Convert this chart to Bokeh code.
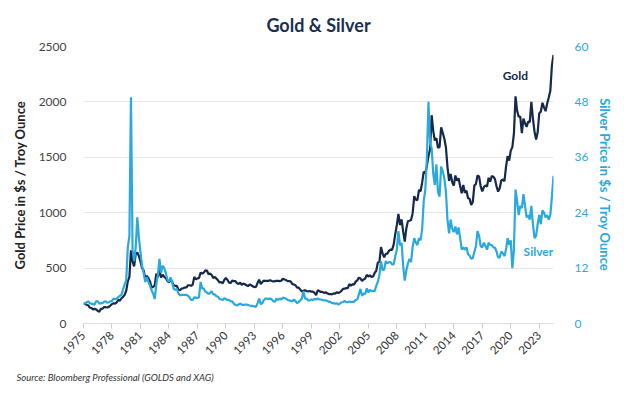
import math
import numpy as np
from bokeh.plotting import figure
from bokeh.models import Range1d, LinearAxis, FixedTicker, Title, Label
from bokeh.embed import file_html
from bokeh.resources import INLINE

# Bi-monthly readings (Jan, Mar, May, Jul, Sep, Nov) from 1975 to mid-2024
gold = [
    180, 178, 167, 165, 142, 140,        # 1975
    128, 132, 127, 114, 106, 132,        # 1976
    133, 148, 147, 144, 150, 162,        # 1977
    175, 183, 178, 190, 215, 205,        # 1978
    228, 240, 258, 296, 380, 420,        # 1979
    660, 560, 515, 630, 640, 610,        # 1980
    560, 500, 480, 410, 430, 410,        # 1981
    380, 325, 330, 345, 450, 420,        # 1982
    480, 415, 440, 420, 410, 385,        # 1983
    370, 395, 375, 345, 340, 340,        # 1984
    305, 300, 315, 318, 325, 325,        # 1985
    345, 345, 340, 350, 420, 398,        # 1986
    408, 410, 460, 450, 460, 480,        # 1987
    478, 445, 452, 438, 410, 420,        # 1988
    405, 390, 370, 375, 362, 395,        # 1989
    410, 393, 369, 365, 388, 382,        # 1990
    383, 363, 357, 368, 349, 360,        # 1991
    354, 345, 337, 353, 345, 335,        # 1992
    329, 330, 367, 395, 355, 374,        # 1993
    387, 384, 385, 385, 391, 384,        # 1994
    379, 382, 385, 386, 383, 386,        # 1995
    405, 397, 392, 383, 383, 378,        # 1996
    355, 352, 344, 324, 323, 306,        # 1997
    289, 296, 299, 293, 289, 294,        # 1998
    287, 287, 277, 256, 300, 293,        # 1999
    284, 286, 276, 282, 273, 266,        # 2000
    266, 263, 272, 268, 283, 276,        # 2001
    282, 294, 313, 314, 319, 319,        # 2002
    356, 340, 355, 351, 378, 389,        # 2003
    414, 406, 384, 398, 405, 439,        # 2004
    424, 434, 421, 424, 456, 476,        # 2005
    550, 557, 690, 633, 598, 628,        # 2006
    631, 655, 667, 665, 712, 806,        # 2007
    889, 990, 889, 939, 829, 740,        # 2008
    858, 924, 927, 934, 996, 1150,       # 2009
    1118, 1113, 1206, 1193, 1271, 1370,  # 2010
    1356, 1424, 1512, 1572, 1880, 1739,  # 2011
    1652, 1673, 1585, 1592, 1770, 1721,  # 2012
    1670, 1592, 1414, 1287, 1349, 1275,  # 2013
    1244, 1336, 1288, 1311, 1241, 1176,  # 2014
    1251, 1179, 1199, 1131, 1125, 1070,  # 2015
    1097, 1246, 1260, 1337, 1326, 1236,  # 2016
    1192, 1231, 1246, 1236, 1315, 1280,  # 2017
    1331, 1325, 1303, 1238, 1190, 1220,  # 2018
    1291, 1300, 1284, 1413, 1510, 1471,  # 2019
    1560, 1592, 1715, 2050, 1922, 1866,  # 2020
    1867, 1718, 1850, 1807, 1775, 1822,  # 2021
    1817, 2000, 1849, 1732, 1660, 1726,  # 2022
    1898, 1912, 1992, 1951, 1916, 1985,  # 2023
    2040, 2100, 2330, 2425,              # 2024
]

silver = [
    4.4, 4.3, 4.6, 4.8, 4.4, 4.3,        # 1975
    4.2, 4.1, 4.8, 4.8, 4.3, 4.4,        # 1976
    4.4, 4.7, 4.8, 4.5, 4.6, 4.8,        # 1977
    4.9, 5.4, 5.3, 5.4, 5.7, 6.0,        # 1978
    6.2, 7.4, 8.5, 9.3, 16.5, 19.0,      # 1979
    49.0, 16.0, 13.5, 16.5, 23.0, 18.5,  # 1980
    15.5, 12.5, 11.0, 9.0, 10.0, 9.0,    # 1981
    8.2, 7.2, 6.5, 5.3, 8.5, 10.5,       # 1982
    14.0, 11.0, 12.5, 12.0, 11.0, 9.5,   # 1983
    9.0, 10.0, 9.0, 7.5, 7.3, 7.5,       # 1984
    6.5, 6.1, 6.2, 6.2, 6.2, 6.2,        # 1985
    6.0, 5.7, 5.1, 5.1, 5.7, 5.6,        # 1986
    5.5, 5.7, 9.0, 7.6, 7.6, 6.9,        # 1987
    6.7, 6.4, 6.6, 7.0, 6.3, 6.3,        # 1988
    5.9, 5.8, 5.3, 5.2, 5.1, 5.5,        # 1989
    5.3, 5.1, 5.1, 4.8, 4.8, 4.3,        # 1990
    4.0, 3.9, 4.1, 4.3, 4.1, 4.0,        # 1991
    4.1, 4.1, 4.0, 3.9, 3.8, 3.8,        # 1992
    3.7, 3.6, 4.4, 5.4, 4.2, 4.4,        # 1993
    5.1, 5.4, 5.4, 5.3, 5.4, 5.2,        # 1994
    4.8, 4.7, 5.4, 5.1, 5.4, 5.2,        # 1995
    5.6, 5.5, 5.4, 5.1, 5.0, 4.9,        # 1996
    4.8, 5.2, 4.8, 4.4, 4.7, 5.0,        # 1997
    5.4, 7.0, 5.4, 5.4, 5.0, 5.0,        # 1998
    5.2, 5.1, 5.3, 5.2, 5.4, 5.2,        # 1999
    5.2, 5.1, 5.0, 5.0, 4.9, 4.7,        # 2000
    4.7, 4.4, 4.4, 4.3, 4.4, 4.1,        # 2001
    4.3, 4.6, 4.6, 4.9, 4.6, 4.6,        # 2002
    4.8, 4.6, 4.7, 4.7, 5.1, 5.2,        # 2003
    6.3, 7.5, 6.0, 6.5, 6.4, 7.6,        # 2004
    6.7, 7.3, 7.0, 7.1, 7.0, 8.2,        # 2005
    9.0, 10.5, 13.5, 11.5, 11.7, 13.5,   # 2006
    13.0, 13.3, 13.3, 12.8, 12.8, 14.5,  # 2007
    16.0, 20.0, 16.9, 17.5, 12.5, 9.3,   # 2008
    11.5, 13.0, 14.0, 13.3, 16.6, 18.5,  # 2009
    17.5, 17.0, 18.5, 18.0, 20.5, 26.5,  # 2010
    29.0, 36.0, 48.0, 39.0, 38.0, 32.5,  # 2011
    30.0, 34.5, 28.5, 27.5, 34.0, 33.0,  # 2012
    31.5, 28.7, 22.5, 19.5, 22.5, 20.5,  # 2013
    19.8, 21.0, 19.3, 20.8, 18.5, 16.0,  # 2014
    16.5, 16.0, 16.5, 15.0, 14.7, 14.0,  # 2015
    14.2, 15.5, 16.8, 20.0, 19.0, 16.7,  # 2016
    16.5, 17.5, 16.8, 16.0, 17.5, 17.0,  # 2017
    17.0, 16.5, 16.4, 15.6, 14.3, 14.3,  # 2018
    15.6, 15.2, 14.6, 16.0, 18.5, 17.0,  # 2019
    18.0, 12.0, 16.0, 29.0, 26.5, 23.5,  # 2020
    25.5, 25.0, 28.0, 25.5, 23.0, 23.5,  # 2021
    22.5, 25.5, 21.5, 18.5, 19.0, 21.5,  # 2022
    23.5, 21.5, 24.5, 24.0, 23.0, 23.5,  # 2023
    22.5, 23.5, 27.5, 32.0,              # 2024
]

year_ticks = [1975, 1978, 1981, 1984, 1987, 1990, 1993, 1996, 1999, 2002,
              2005, 2008, 2011, 2014, 2017, 2020, 2023]
gold_ticks = [0, 500, 1000, 1500, 2000, 2500]
silver_ticks = [0, 12, 24, 36, 48, 60]

years = 1975 + np.arange(len(gold)) / 6.0

NAVY = "#15294b"
BLUE = "#2aa9e0"
FONT = "Lato"

p = figure(width=616, height=391, output_backend="svg", toolbar_location=None,
           x_range=Range1d(1975, 2024.5), y_range=Range1d(0, 2500),
           min_border_left=83, min_border_right=59, min_border_top=45,
           min_border_bottom=68)
p.extra_y_ranges = {"silver": Range1d(0, 60)}
p.outline_line_color = None
p.background_fill_color = "white"
p.border_fill_color = "white"

p.title = Title(text="Gold & Silver", align="center", offset=-8,
                text_font=FONT, text_font_size="18px", text_font_style="bold",
                text_color="#1b2e50", standoff=22)

p.line(years, gold, line_color=NAVY, line_width=2.2)
p.line(years, silver, line_color=BLUE, line_width=2.2, y_range_name="silver")

xa = p.xaxis[0]
xa.ticker = FixedTicker(ticks=year_ticks)
xa.major_label_orientation = math.pi / 4
xa.major_label_text_font = FONT
xa.major_label_text_font_size = "11.5px"
xa.major_label_text_color = "#333333"
xa.axis_line_color = "#dddddd"
xa.major_tick_line_color = "#cccccc"
xa.major_tick_out = 5
xa.major_tick_in = 0
xa.minor_tick_line_color = None
xa.major_label_standoff = 5

ya = p.yaxis[0]
ya.ticker = FixedTicker(ticks=gold_ticks)
ya.axis_line_color = None
ya.major_tick_line_color = None
ya.minor_tick_line_color = None
ya.major_label_text_font = FONT
ya.major_label_text_font_size = "12px"
ya.major_label_text_color = "#444444"
ya.major_label_standoff = 11
ya.axis_label = "Gold Price in $s / Troy Ounce"
ya.axis_label_text_font = FONT
ya.axis_label_text_font_style = "bold"
ya.axis_label_text_font_size = "13px"
ya.axis_label_text_color = "#222222"
ya.axis_label_standoff = 8

ra = LinearAxis(y_range_name="silver", ticker=FixedTicker(ticks=silver_ticks))
ra.axis_line_color = None
ra.major_tick_line_color = None
ra.minor_tick_line_color = None
ra.major_label_text_font = FONT
ra.major_label_text_font_size = "12px"
ra.major_label_text_color = BLUE
ra.major_label_standoff = 15
ra.axis_label = "Silver Price in $s / Troy Ounce"
ra.axis_label_text_font = FONT
ra.axis_label_text_font_style = "bold"
ra.axis_label_text_font_size = "13px"
ra.axis_label_text_color = BLUE
ra.axis_label_standoff = 6
p.add_layout(ra, "right")

p.xgrid.grid_line_color = None
p.ygrid.grid_line_color = "#e6e6e6"
p.ygrid.ticker = FixedTicker(ticks=gold_ticks)

p.add_layout(Label(x=2019.15, y=2240, text="Gold", text_baseline="middle",
                   text_font=FONT, text_font_style="bold", text_font_size="12px",
                   text_color=NAVY))
p.add_layout(Label(x=2021.35, y=15.5, y_range_name="silver", text="Silver",
                   text_baseline="middle", text_font=FONT, text_font_style="bold",
                   text_font_size="12px", text_color=BLUE))

p.add_layout(Title(text="Source: Bloomberg Professional (GOLDS and XAG)",
                   align="left", offset=-67, text_font=FONT,
                   text_font_style="italic", text_font_size="9.5px",
                   text_color="#333333", standoff=16), "below")

open("out.html", "w").write(file_html(p, INLINE))
